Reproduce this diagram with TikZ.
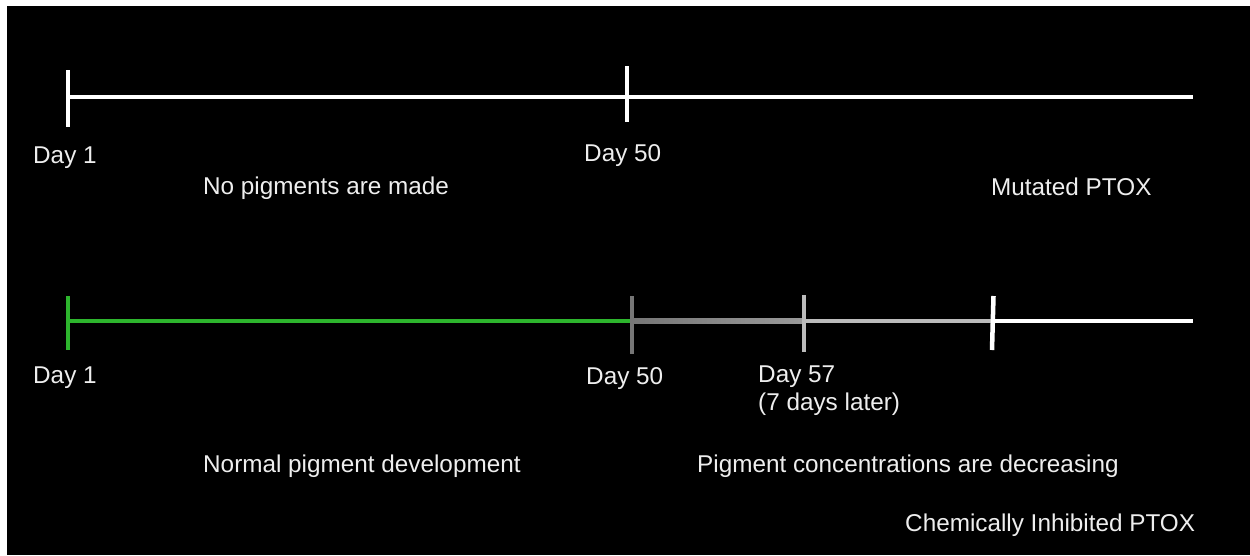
\documentclass[tikz,border=0pt]{standalone}
\usepackage{fontspec}
\setmainfont{Liberation Sans}
\definecolor{txt}{HTML}{EEEEEE}
\definecolor{grn}{HTML}{2DB52D}
\definecolor{gA}{HTML}{767676}
\definecolor{gB}{HTML}{9A9A9A}
\definecolor{gC}{HTML}{BBBBBB}
\begin{document}
\begin{tikzpicture}[x=1pt,y=-1pt,
  lbl/.style={anchor=base west,inner sep=0pt,text=txt,font=\fontsize{24.3}{29}\selectfont},
  bar/.style={line width=4.5pt},
  tick/.style={line width=4.5pt}]
\useasboundingbox (0,0) rectangle (1250,555);
\fill[white] (0,0) rectangle (1250,555);
\fill[black] (7,6) rectangle (1250,555);
% top timeline
\coordinate (t0) at (68,97);
\coordinate (t1) at (627,97);
\coordinate (tE) at (1193,97);
\draw[bar,white] (t0) -- (tE);
\draw[tick,white] (68,70) -- (68,127);
\draw[tick,white] (627,66) -- (627,122);
% bottom timeline
\coordinate (b0) at (68,321);
\coordinate (b1) at (632,321);
\coordinate (b2) at (805,321);
\coordinate (b3) at (992,321);
\coordinate (bE) at (1193,321);
\draw[bar,grn] (b0) -- (b1);
\shade[left color=gA,right color=gB] (632,318.75) rectangle (805,323.25);
\draw[bar,gC] (b2) -- (b3);
\draw[bar,white] (b3) -- (bE);
\draw[tick,grn] (68,296) -- (68,350);
\draw[tick,gA] (632,296) -- (632,354);
\draw[tick,gC] (804,295) -- (804,352);
\draw[tick,white] (993.5,296) -- (992,350);
% labels
\node[lbl] (d1a) at (33,163) {Day 1};
\node[lbl] (d50a) at (584,161) {Day 50};
\node[lbl] (npm) at (203,194) {No pigments are made};
\node[lbl] (mut) at (991,195) {Mutated PTOX};
\node[lbl] (d1b) at (33,383) {Day 1};
\node[lbl] (d50b) at (586,384) {Day 50};
\node[lbl] (d57) at (758,382) {Day 57};
\node[lbl] (later) at (758,410) {(7 days later)};
\node[lbl] (norm) at (203,472) {Normal pigment development};
\node[lbl] (dec) at (697,472) {Pigment concentrations are decreasing};
\node[lbl] (chem) at (905,531) {Chemically Inhibited PTOX};
\end{tikzpicture}
\end{document}
